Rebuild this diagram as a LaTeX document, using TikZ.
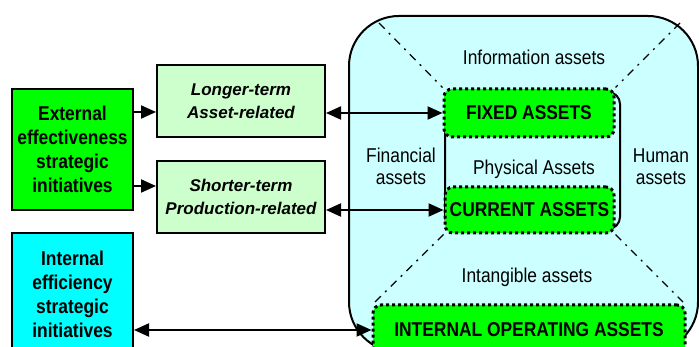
\documentclass[tikz,border=0pt]{standalone}
\usepackage{fontspec}
\setmainfont{Liberation Sans}[FakeStretch=0.87]
\newfontfamily\termfont{Liberation Sans}[FakeStretch=1.0]
\usetikzlibrary{arrows.meta}
\definecolor{brightgreen}{HTML}{00FF00}
\definecolor{palegreen}{HTML}{CCFFCC}
\definecolor{aqua}{HTML}{00FFFF}
\definecolor{palecyan}{HTML}{CCFFFF}
\tikzset{
  initbox/.style={draw, line width=2pt, align=center, inner sep=0pt,
    font=\fontsize{20}{24}\selectfont\bfseries},
  termbox/.style={draw, line width=2pt, fill=palegreen, align=center, inner sep=0pt,
    minimum width=168pt, minimum height=72pt,
    font=\termfont\fontsize{17}{23}\selectfont\bfseries\itshape},
  assetbox/.style={draw, line width=3pt, dash pattern=on 3pt off 3pt, fill=brightgreen,
    rounded corners=8pt, inner sep=0pt, font=\fontsize{20}{24}\selectfont\bfseries},
  assetlabel/.style={align=center, inner sep=0pt, font=\fontsize{20}{22}\selectfont},
  tip/.tip={Triangle[length=15pt,width=13pt]},
  arr/.style={line width=2pt, -tip},
  dblarr/.style={line width=2pt, tip-tip},
  divider/.style={line width=1.3pt, dash pattern=on 8pt off 6pt on 2pt off 6pt},
}
\begin{document}
\begin{tikzpicture}[x=1pt, y=-1pt]
\useasboundingbox (0,0) rectangle (699,347);

% asset universe
\node[draw, line width=2pt, fill=palecyan, rounded corners=50pt, inner sep=0pt,
  minimum width=349pt, minimum height=336pt] (universe) at (523.5,184) {};

% physical assets group
\node[draw, line width=2pt, rounded corners=12pt, inner sep=0pt,
  minimum width=175pt, minimum height=137pt] (phys) at (532.5,160.5) {};

% asset boxes
\node[assetbox, minimum width=170pt, minimum height=48pt] (fixed) at (529,113) {FIXED ASSETS};
\node[assetbox, minimum width=169pt, minimum height=46pt] (current) at (529.5,210) {CURRENT ASSETS};
\node[assetbox, minimum width=312pt, minimum height=50pt] (intop) at (529,330) {INTERNAL OPERATING ASSETS};

% dividers between asset categories
\coordinate (tl) at (379,23);
\coordinate (tr) at (680,23);
\coordinate (bl) at (375,302);
\coordinate (br) at (683,302);
\draw[divider] (tl) -- (fixed.north west);
\draw[divider] (tr) -- (fixed.north east);
\draw[divider] (current.south west) -- (bl);
\draw[divider] (current.south east) -- (br);

% category labels
\node[assetlabel] (info) at (534,57) {Information assets};
\node[assetlabel] (fin) at (401,166) {Financial\\assets};
\node[assetlabel] (physlbl) at (534,169) {Physical Assets};
\node[assetlabel] (human) at (661,167) {Human\\assets};
\node[assetlabel] (intang) at (527,277) {Intangible assets};

% strategic initiatives
\node[initbox, fill=brightgreen, minimum width=121pt, minimum height=121pt] (ext) at (72.5,149.5)
  {External\\effectiveness\\strategic\\initiatives};
\node[initbox, fill=aqua, minimum width=121pt, minimum height=122pt] (int) at (72.5,294)
  {Internal\\efficiency\\strategic\\initiatives};

\node[termbox] (longer) at (241,101) {Longer-term\\Asset-related};
\node[termbox] (shorter) at (241,197) {Shorter-term\\Production-related};

% connectors
\draw[arr] ([yshift=37.5pt]ext.east) -- ([yshift=37.5pt]ext.east -| longer.west);
\draw[arr] ([yshift=-36.5pt]ext.east) -- ([yshift=-36.5pt]ext.east -| shorter.west);
\draw[dblarr] (longer.east |- fixed.west) -- (fixed.west);
\draw[dblarr] (shorter.east |- current.west) -- (current.west);
\draw[dblarr] (int.east |- intop.west) -- (intop.west);
\end{tikzpicture}
\end{document}
